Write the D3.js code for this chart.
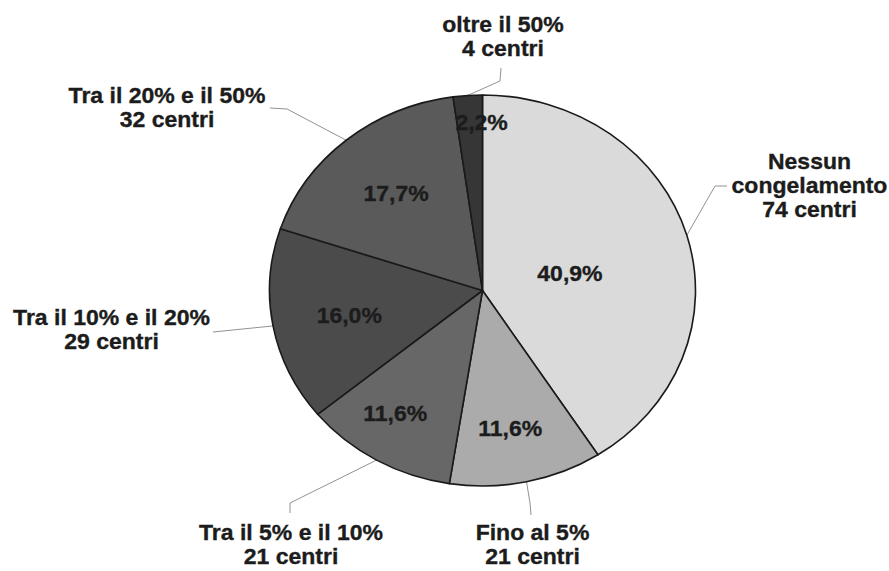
<!DOCTYPE html>
<html>
<head>
<meta charset="utf-8">
<script src="https://cdn.jsdelivr.net/npm/d3@7/dist/d3.min.js"></script>
<style>
  html, body { margin: 0; padding: 0; background: #ffffff; }
  svg { display: block; }
  text { font-family: "Liberation Sans", Arial, Helvetica, sans-serif; font-weight: bold; fill: #1c1c1c; stroke: #1c1c1c; stroke-width: 0.35px; }
</style>
</head>
<body>
<svg id="chart" width="889" height="571"></svg>
<script>
// Centres by share of frozen embryos
const categories = ["Nessun congelamento", "Fino al 5%", "Tra il 5% e il 10%", "Tra il 10% e il 20%", "Tra il 20% e il 50%", "oltre il 50%"];
const centri = [74, 21, 21, 29, 32, 4];
const nameLines = [["Nessun", "congelamento"], ["Fino al 5%"], ["Tra il 5% e il 10%"], ["Tra il 10% e il 20%"], ["Tra il 20% e il 50%"], ["oltre il 50%"]];
const fills = ["#dadada", "#ababab", "#676767", "#4b4b4b", "#5a5a5a", "#363636"];

// Layout
const W = 889, H = 571;
const cx = 482.5, cy = 290.5;
const ry = 195.5, rx = 213;
const sx = rx / ry;          // the pie is drawn slightly wider than tall
const textStretch = 1.07;
const fontSize = 21.5;
const lineGap = 24.5;

// percentage labels: radius fraction and angular nudge (degrees)
const pctRadius = [0.42, 0.717, 0.75, 0.638, 0.644, 0.863];
const pctNudge = [4.1, 1.5, 3.3, -0.9, 0.7, 3.7];

// callout text anchors (centre x, first baseline) and leader bends
const calloutAt = [[809.5, 168.5], [532.5, 539.5], [291, 539.5], [111.5, 324.5], [167, 103], [503, 31.5]];
const leaderBends = [
  [[715, 186], [727, 186]],
  [[530, 503], [531, 515]],
  [[290, 503], [290, 513]],
  [[213, 332]],
  [[287, 109], [270, 108]],
  [[500, 81], [501, 68]]
];

const svg = d3.select("#chart");
const total = d3.sum(centri);
const fmt = v => d3.format(".1f")(v).replace(".", ",") + "%";

const pie = d3.pie().sort(null).startAngle(0).endAngle(2 * Math.PI);
const arcs = pie(centri);
const arc = d3.arc().innerRadius(0).outerRadius(ry);

const edgePoint = (a, f) => [cx + rx * f * Math.sin(a), cy - ry * f * Math.cos(a)];

// leader lines
const line = d3.line();
svg.append("g")
  .selectAll("path")
  .data(arcs)
  .join("path")
  .attr("d", (d, i) => {
    const mid = (d.startAngle + d.endAngle) / 2;
    return line([edgePoint(mid, 1)].concat(leaderBends[i]));
  })
  .attr("fill", "none")
  .attr("stroke", "#929292")
  .attr("stroke-width", 1);

// slices
svg.append("g")
  .attr("transform", `translate(${cx},${cy}) scale(${sx},1)`)
  .selectAll("path")
  .data(arcs)
  .join("path")
  .attr("d", arc)
  .attr("fill", (d, i) => fills[i])
  .attr("stroke", "#1a1a1a")
  .attr("stroke-width", 1.6)
  .attr("stroke-linejoin", "round")
  .attr("vector-effect", "non-scaling-stroke");

// percentage labels
svg.append("g")
  .selectAll("text")
  .data(arcs)
  .join("text")
  .attr("transform", (d, i) => {
    const a = (d.startAngle + d.endAngle) / 2 + pctNudge[i] * Math.PI / 180;
    const [x, y] = edgePoint(a, pctRadius[i]);
    return `translate(${x},${y}) scale(${textStretch},1)`;
  })
  .attr("text-anchor", "middle")
  .attr("dy", "0.36em")
  .style("font-size", fontSize + "px")
  .text(d => fmt(d.value / total * 100));

// category callouts
const callouts = svg.append("g")
  .selectAll("text")
  .data(arcs)
  .join("text")
  .attr("transform", (d, i) => `translate(${calloutAt[i][0]},${calloutAt[i][1]}) scale(${textStretch},1)`)
  .attr("text-anchor", "middle")
  .style("font-size", fontSize + "px");

callouts.each(function (d, i) {
  const lines = nameLines[i].concat([`${centri[i]} centri`]);
  d3.select(this).selectAll("tspan")
    .data(lines)
    .join("tspan")
    .attr("x", 0)
    .attr("y", (t, j) => j * lineGap)
    .text(t => t);
});
</script>
</body>
</html>
